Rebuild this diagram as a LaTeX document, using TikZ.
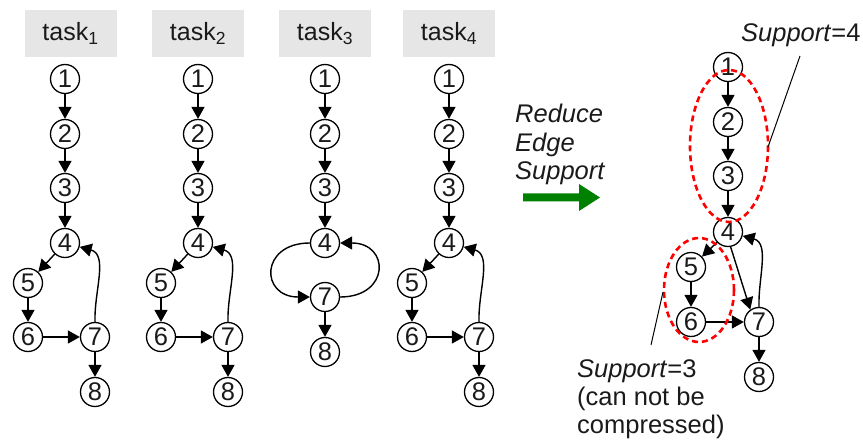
\documentclass[tikz,border=0pt]{standalone}
\usepackage{fontspec}
\setmainfont{Liberation Sans}
\usetikzlibrary{arrows.meta}
\definecolor{hdr}{HTML}{E6E6E6}
\definecolor{txt}{HTML}{1A1A1A}
\definecolor{grn}{HTML}{008000}
\tikzset{
  vtx/.style={circle,draw=black,line width=1.3pt,minimum size=29pt,inner sep=0pt,fill=white,text=txt,font=\fontsize{25.5}{29}\selectfont},
  hdrbox/.style={fill=hdr,minimum width=92pt,minimum height=47pt,inner sep=0pt,text=txt,font=\fontsize{25}{29}\selectfont},
  edge/.style={line width=1.4pt,-{Triangle[length=12pt,width=13pt]}},
  lbl/.style={anchor=base west,inner sep=0pt,text=txt,font=\fontsize{25.5}{29}\selectfont},
  redell/.style={draw=red,line width=2.6pt,dash pattern=on 6pt off 4pt},
  leader/.style={line width=1pt,black}
}
\begin{document}
\begin{tikzpicture}[x=1pt,y=-1pt]
\useasboundingbox (0,0) rectangle (863,441);

% ---- generic task (1,2,4) ----
\foreach \t/\cx/\bx in {1/65/70.5, 2/198/198, 4/449/449}{
  \node[hdrbox] (h\t) at (\bx,33.5) {task\textsubscript{\t}};
  \node[vtx] (a\t1) at (\cx,79) {1};
  \node[vtx] (a\t2) at (\cx,134) {2};
  \node[vtx] (a\t3) at (\cx,188) {3};
  \node[vtx] (a\t4) at (\cx,243) {4};
  \node[vtx] (a\t5) at (\cx-37,283) {5};
  \node[vtx] (a\t6) at (\cx-37,337) {6};
  \node[vtx] (a\t7) at (\cx+30,337) {7};
  \node[vtx] (a\t8) at (\cx+30,392) {8};
  \draw[edge] (a\t1) -- (a\t2);
  \draw[edge] (a\t2) -- (a\t3);
  \draw[edge] (a\t3) -- (a\t4);
  \draw[edge] (a\t4) -- (a\t5);
  \draw[edge] (a\t5) -- (a\t6);
  \draw[edge] (a\t6) -- (a\t7);
  \draw[edge] (a\t7) -- (a\t8);
  \draw[edge] (a\t7.north) to[out=92,in=-15] (a\t4);
}

% ---- task 3 ----
\node[hdrbox] (h3) at (325,33.5) {task\textsubscript{3}};
\node[vtx] (c1) at (325,79) {1};
\node[vtx] (c2) at (325,134) {2};
\node[vtx] (c3) at (325,188) {3};
\node[vtx] (c4) at (325,243) {4};
\node[vtx] (c7) at (325,297) {7};
\node[vtx] (c8) at (325,352) {8};
\draw[edge] (c1) -- (c2);
\draw[edge] (c2) -- (c3);
\draw[edge] (c3) -- (c4);
\draw[edge] (c7) -- (c8);
\draw[edge] (c4.west) .. controls +(-50,0) and +(-50,0) .. (c7.west);
\draw[edge] (c7.east) .. controls +(50,0) and +(50,0) .. (c4.east);

% ---- reduce arrow ----
\node[lbl] (r1) at (515,123) {\itshape Reduce};
\node[lbl] (r2) at (515,152) {\itshape Edge};
\node[lbl] (r3) at (515,180) {\itshape Support};
\fill[grn] (523,193.5) -- (579,193.5) -- (579,184) -- (600,197.5) -- (579,211) -- (579,201.5) -- (523,201.5) -- cycle;

% ---- compressed graph ----
\node[vtx] (d1) at (728,67) {1};
\node[vtx] (d2) at (728,122) {2};
\node[vtx] (d3) at (728,176) {3};
\node[vtx] (d4) at (728,232) {4};
\node[vtx] (d5) at (691,267) {5};
\node[vtx] (d6) at (691,322) {6};
\node[vtx] (d7) at (759,322) {7};
\node[vtx] (d8) at (759,377) {8};
\draw[edge] (d1) -- (d2);
\draw[edge] (d2) -- (d3);
\draw[edge] (d3) -- (d4);
\draw[edge] (d4) -- (d5);
\draw[edge] (d5) -- (d6);
\draw[edge] (d6) -- (d7);
\draw[edge] (d7) -- (d8);
\draw[edge] (d4.-80) -- (d7.125);
\draw[edge] (d7.north) to[out=92,in=-15] (d4);

\draw[redell] (729,146) ellipse [x radius=39, y radius=76];
\draw[redell] (699,290) ellipse [x radius=35, y radius=52];

\node[lbl] (s4) at (741,42) {\textit{Support}=4};
\coordinate (s4a) at (800,56);
\coordinate (s4b) at (768,147);
\draw[leader] (s4a) -- (s4b);

\node[lbl] (s3a) at (577,377) {\textit{Support}=3};
\node[lbl] (s3b) at (577,405) {(can not be};
\node[lbl] (s3c) at (577,433) {compressed)};
\coordinate (l3a) at (663,292);
\coordinate (l3b) at (651,345);
\draw[leader] (l3a) -- (l3b);
\end{tikzpicture}
\end{document}
